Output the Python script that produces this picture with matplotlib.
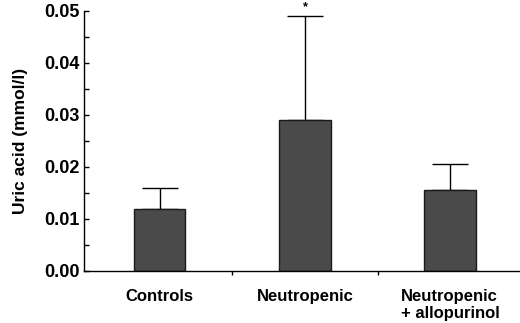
import matplotlib
matplotlib.use("Agg")
import matplotlib.pyplot as plt
from matplotlib.ticker import MultipleLocator, FixedLocator, NullFormatter

categories = ["Controls", "Neutropenic", "Neutropenic\n+ allopurinol"]
means = [0.012, 0.029, 0.0156]
sd = [0.004, 0.020, 0.0049]
y_ticks = [0.00, 0.01, 0.02, 0.03, 0.04, 0.05]
y_ticklabels = ["0.00", "0.01", "0.02", "0.03", "0.04", "0.05"]
ylabel = "Uric acid (mmol/l)"
significance = ["", "*", ""]

plt.rcParams['font.family'] = ['Liberation Sans', 'DejaVu Sans']
plt.rcParams['font.weight'] = 'bold'

fig = plt.figure(figsize=(5.2, 3.23), dpi=100)
ax = fig.add_axes([0.1615, 0.161, 0.8385, 0.805])

x = list(range(len(categories)))
ax.bar(x, means, width=0.355, color="#4a4a4a", edgecolor="#1a1a1a", linewidth=1.0, zorder=2)
ax.errorbar(x, means, yerr=[[0]*len(sd), sd], fmt="none", ecolor="black",
            elinewidth=1.0, capsize=13, capthick=1.0, zorder=1)
for xi, m, s, sig in zip(x, means, sd, significance):
    if sig:
        ax.text(xi, m + s + 0.0011, sig, ha="center", va="baseline", fontsize=9,
                fontweight="bold", clip_on=False)

ax.set_xlim(-0.52, 2.48)
ax.set_ylim(0, 0.05)
ax.spines['top'].set_visible(False)
ax.spines['right'].set_visible(False)
ax.spines['left'].set_linewidth(1.0)
ax.spines['bottom'].set_linewidth(1.0)

ax.set_yticks(y_ticks)
ax.set_yticklabels(y_ticklabels, fontsize=13, fontweight="bold")
ax.yaxis.set_minor_locator(MultipleLocator(0.005))
ax.tick_params(axis='y', which='both', direction='in', length=3.5, width=1.0, pad=3)

ax.xaxis.set_major_locator(FixedLocator([0.5, 1.5]))
ax.xaxis.set_major_formatter(NullFormatter())
ax.xaxis.set_minor_locator(FixedLocator(x))
ax.set_xticklabels(categories, minor=True, fontsize=12, fontweight="bold")
ax.tick_params(axis='x', which='major', direction='out', length=3, width=1.0)
ax.tick_params(axis='x', which='minor', length=0, pad=13)
for lbl in ax.get_xticklabels(minor=True):
    lbl.set_linespacing(1.2)
    lbl.set_multialignment('left')

ax.set_ylabel(ylabel, fontsize=12.5, fontweight="bold", labelpad=12)

fig.savefig("out.png", dpi=100)
